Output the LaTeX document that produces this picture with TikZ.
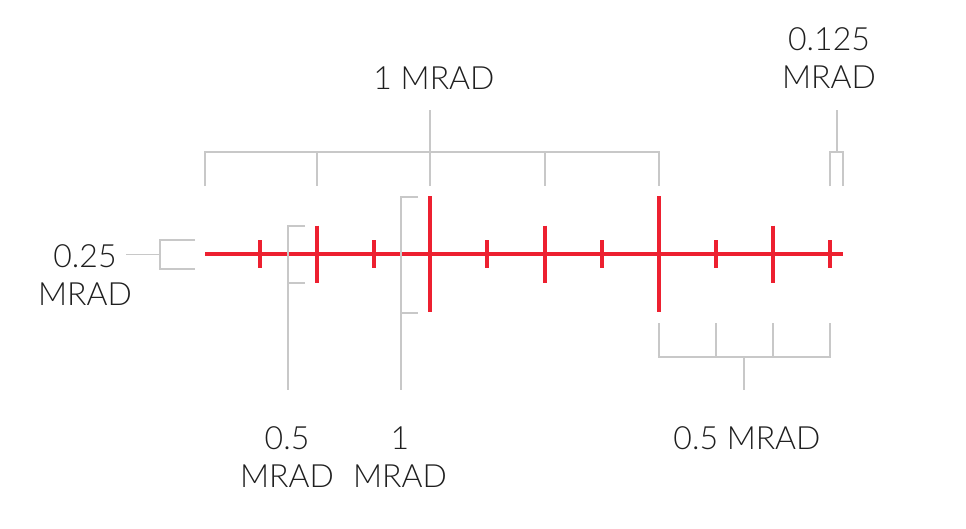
\documentclass[tikz,border=0pt]{standalone}
\usepackage{fontspec}
\setmainfont{Lato Light}
\definecolor{scred}{RGB}{237,32,48}
\definecolor{brgrey}{RGB}{200,200,200}
\begin{document}
\begin{tikzpicture}[x=1pt,y=-1pt,
  redline/.style={draw=scred,line width=4.3pt},
  greyline/.style={draw=brgrey,line width=1.4pt},
  lbl/.style={font=\fontsize{32}{38}\selectfont,align=center,inner sep=0pt,text=black!88}]
\useasboundingbox[fill=white] (0,0) rectangle (966,528);
% main reticle line
\coordinate (L) at (205,254);
\coordinate (R) at (843,254);
\draw[redline] (L) -- (R);
\foreach \x/\h [count=\i] in {260/14,317/28.5,374/14,430/58,487/14,545/28.5,602/14,659/58,716/14,773/28.5,830/14}{
  \coordinate (t\i a) at (\x,254-\h);
  \coordinate (t\i b) at (\x,254+\h);
  \draw[redline] (t\i a) -- (t\i b);
}
% labels
\node[lbl] (top1) at (434,78) {1 MRAD};
\node[lbl] (top2) at (829,58) {0.125\\MRAD};
\node[lbl] (left) at (85,275) {0.25\\MRAD};
\node[lbl] (bot1) at (287,457) {0.5\\MRAD};
\node[lbl] (bot2) at (400,457) {1\\MRAD};
\node[lbl] (bot3) at (747,438) {0.5 MRAD};
% top 1 MRAD bracket
\draw[greyline] (205,186) -- (205,152) -- (659,152) -- (659,186);
\foreach \x in {317,430,545} \draw[greyline] (\x,152) -- (\x,186);
\coordinate (s1) at (430,110);
\draw[greyline] (430,152) -- (s1);
% top right 0.125 bracket
\draw[greyline] (830,186) -- (830,152) -- (843,152) -- (843,186);
\coordinate (s2) at (837,110);
\draw[greyline] (837,152) -- (s2);
% bottom right 0.5 bracket
\draw[greyline] (659,323) -- (659,357) -- (830,357) -- (830,323);
\foreach \x in {716,773} \draw[greyline] (\x,323) -- (\x,357);
\coordinate (s3) at (744,390);
\draw[greyline] (744,357) -- (s3);
% left 0.25 bracket
\draw[greyline] (195,240) -- (160,240) -- (160,269) -- (195,269);
\coordinate (s4) at (126,254.5);
\draw[greyline] (160,254.5) -- (s4);
% 0.5 bracket
\coordinate (s5) at (288,390);
\draw[greyline] (305,226) -- (288,226) -- (s5);
\draw[greyline] (288,283) -- (305,283);
% 1 bracket
\coordinate (s6) at (401,390);
\draw[greyline] (418,197) -- (401,197) -- (s6);
\draw[greyline] (401,313) -- (418,313);
\end{tikzpicture}
\end{document}
